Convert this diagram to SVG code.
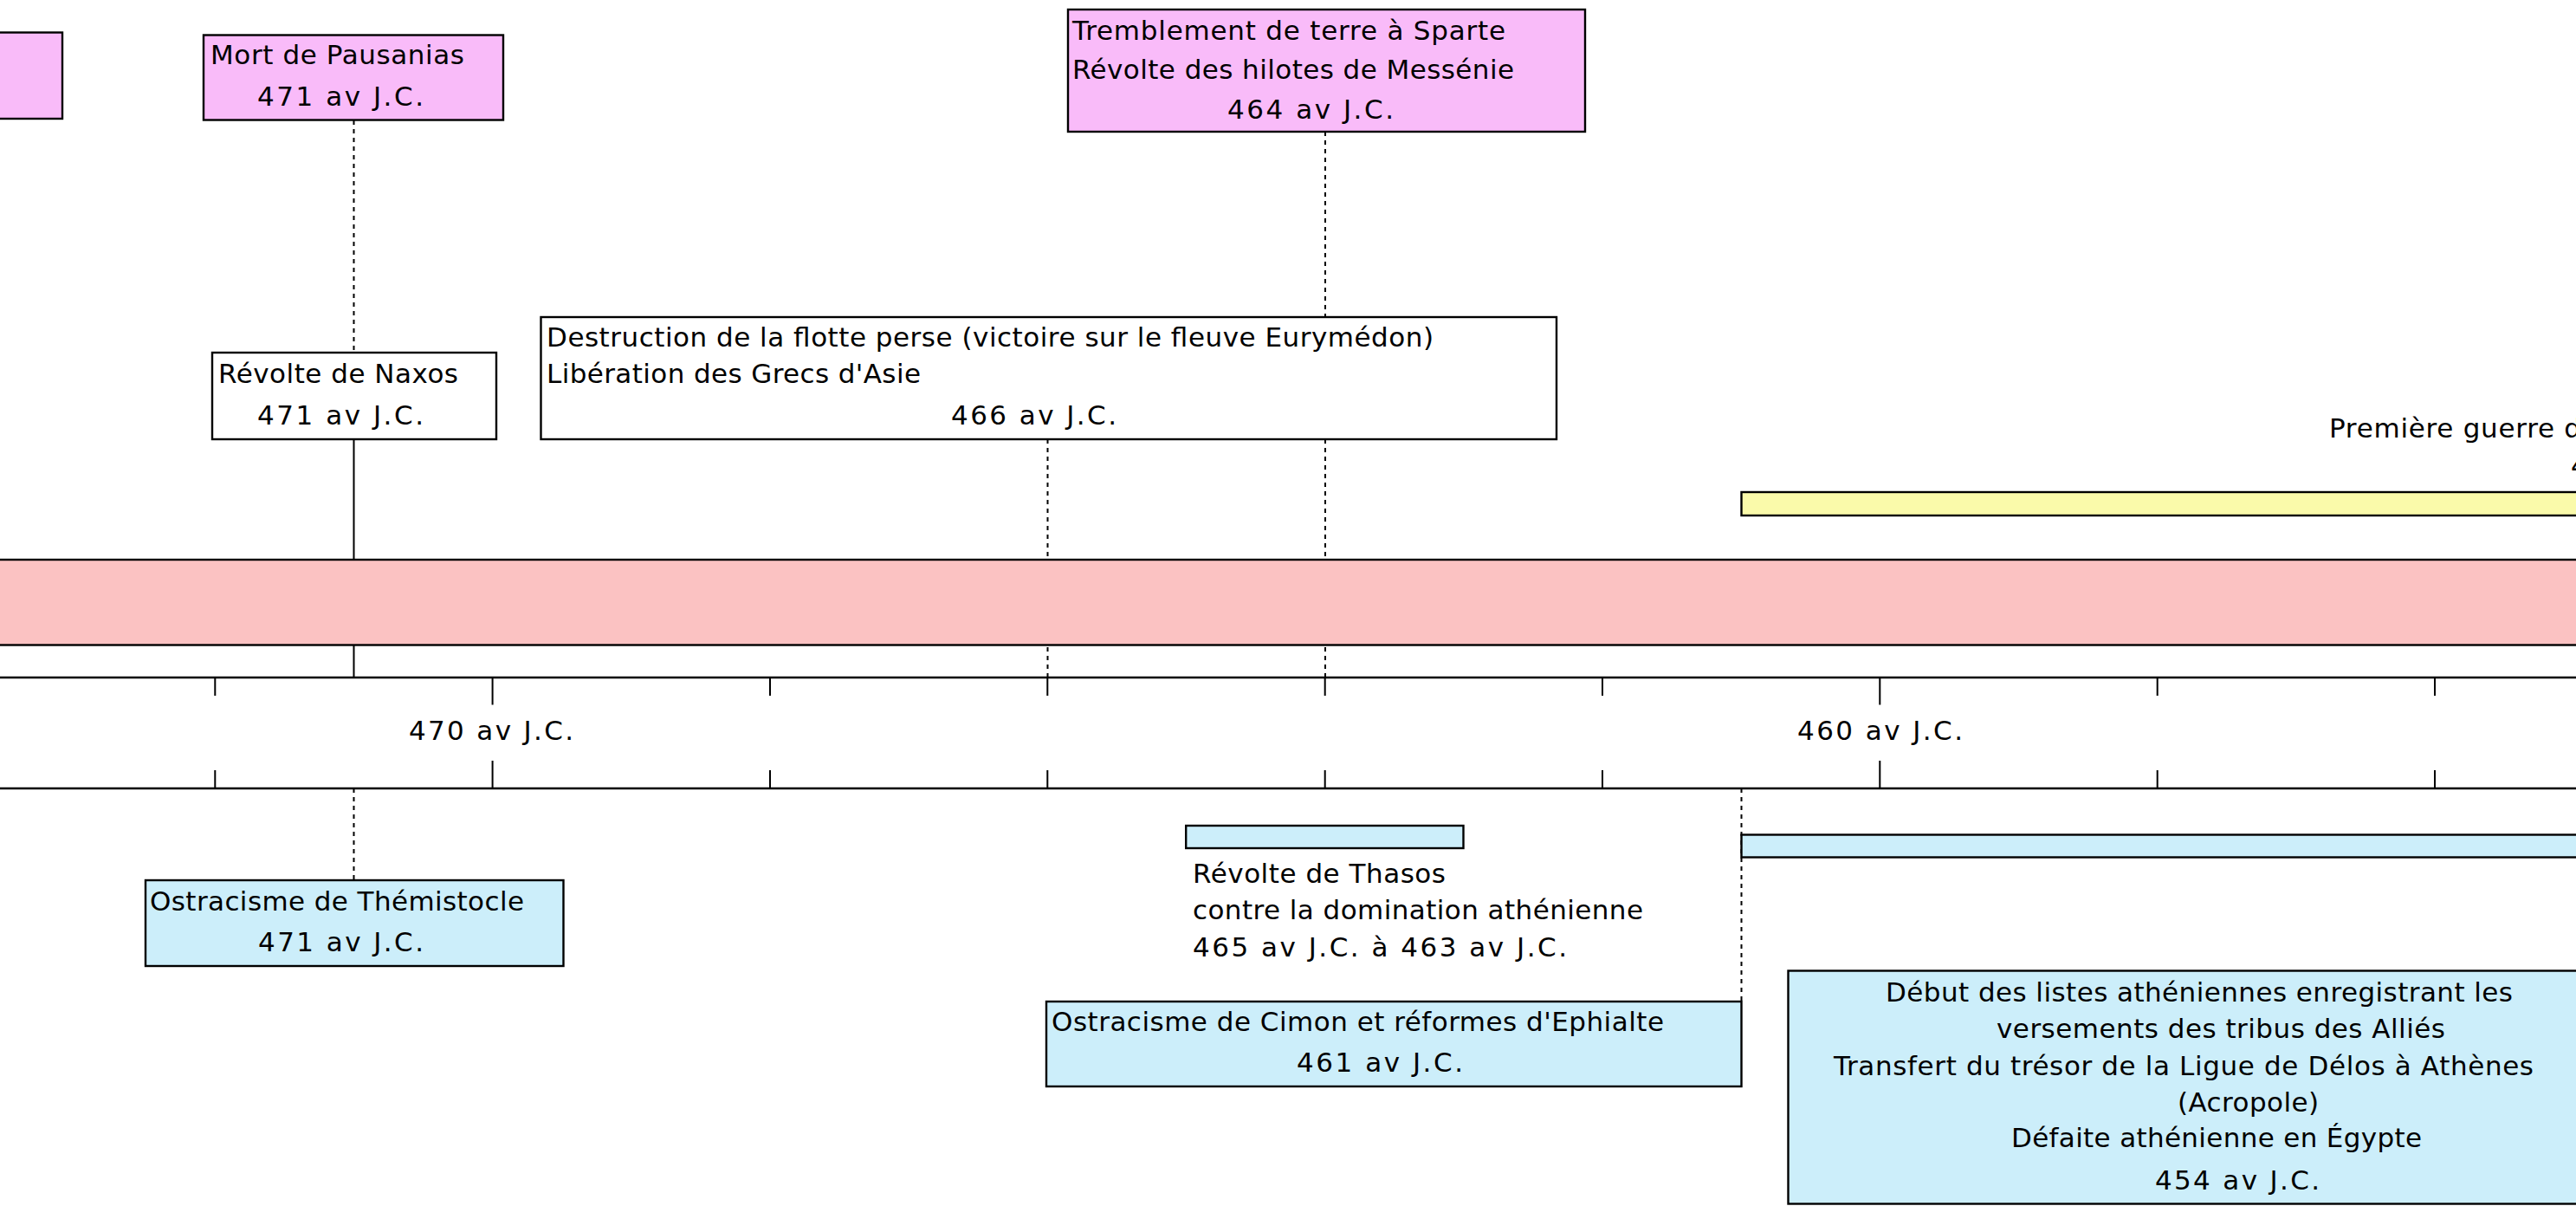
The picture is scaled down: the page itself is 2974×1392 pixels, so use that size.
<svg xmlns="http://www.w3.org/2000/svg" width="2974" height="1392" viewBox="0 0 2974 1392">
<style>
text{font-family:"DejaVu Sans","Liberation Sans",sans-serif;font-size:31px;fill:#000}
.box{stroke:#000;stroke-width:2.4}
.mag{fill:#F9BBF9}
.wht{fill:#FFFFFF}
.blu{fill:#CCEEFA}
.yel{fill:#FAFAAA}
.band{fill:#FBC2C2;stroke:#000;stroke-width:2.4}
.dot{stroke:#000;stroke-width:2;stroke-dasharray:5 5;fill:none}
.sol{stroke:#000;stroke-width:2;fill:none}
.ax{stroke:#000;stroke-width:2.4;fill:none}
.tk{stroke:#000;stroke-width:2;fill:none}
</style>
<rect width="2974" height="1392" fill="#FFFFFF"/>
<g id="connectors">
<line class="dot" x1="408.5" y1="139" x2="408.5" y2="406"/>
<line class="sol" x1="408.5" y1="507" x2="408.5" y2="782"/>
<line class="dot" x1="408.5" y1="910" x2="408.5" y2="1016"/>
<line class="dot" x1="1209.5" y1="507" x2="1209.5" y2="782"/>
<line class="dot" x1="1530" y1="152" x2="1530" y2="366"/>
<line class="dot" x1="1530" y1="507" x2="1530" y2="782"/>
<line class="dot" x1="2010.5" y1="910" x2="2010.5" y2="1156"/>
</g>
<g id="band-periode">
<rect class="band" x="-5" y="646" width="2990" height="98.5"/>
</g>
<g id="axis">
<line class="ax" x1="0" y1="782" x2="2974" y2="782"/>
<line class="ax" x1="0" y1="910" x2="2974" y2="910"/>
<path class="tk" d="M248.3 782V803M248.3 889V910M889 782V803M889 889V910M1209.3 782V803M1209.3 889V910M1529.7 782V803M1529.7 889V910M1850 782V803M1850 889V910M2490.7 782V803M2490.7 889V910M2811 782V803M2811 889V910"/>
<path class="tk" d="M568.6 782V813.5M568.6 878V910M2170.3 782V813.5M2170.3 878V910"/>
<text x="472" y="854" textLength="190">470 av J.C.</text>
<text x="2075" y="854" textLength="191">460 av J.C.</text>
</g>
<g id="node-left-pink">
<rect class="box mag" x="-10" y="37.5" width="82" height="99.5"/>
</g>
<g id="node-pausanias">
<rect class="box mag" x="235" y="40.5" width="346" height="98"/>
<text x="243" y="74" textLength="293">Mort de Pausanias</text>
<text x="297" y="121.5" textLength="192">471 av J.C.</text>
</g>
<g id="node-naxos">
<rect class="box wht" x="245" y="407" width="328" height="100"/>
<text x="252" y="442" textLength="277">Révolte de Naxos</text>
<text x="297" y="489.5" textLength="192">471 av J.C.</text>
</g>
<g id="node-eurymedon">
<rect class="box wht" x="624.5" y="366" width="1172.5" height="141"/>
<text x="631" y="400" textLength="1024">Destruction de la flotte perse (victoire sur le fleuve Eurymédon)</text>
<text x="631" y="442" textLength="432">Libération des Grecs d'Asie</text>
<text x="1098" y="489.5" textLength="191">466 av J.C.</text>
</g>
<g id="node-sparte">
<rect class="box mag" x="1233" y="11" width="597" height="141"/>
<text x="1238" y="45.5" textLength="500">Tremblement de terre à Sparte</text>
<text x="1238" y="91" textLength="510">Révolte des hilotes de Messénie</text>
<text x="1417" y="136.5" textLength="192">464 av J.C.</text>
</g>
<g id="node-guerre">
<rect class="box yel" x="2010.5" y="568" width="1000" height="27"/>
<text x="2689" y="505" textLength="291">Première guerre d</text>
<text x="2968" y="548">4</text>
</g>
<g id="node-themistocle">
<rect class="box blu" x="168" y="1016" width="482.5" height="99"/>
<text x="173" y="1051" textLength="432">Ostracisme de Thémistocle</text>
<text x="298" y="1098" textLength="191">471 av J.C.</text>
</g>
<g id="node-thasos">
<rect class="box blu" x="1369.2" y="953" width="320.3" height="26"/>
<text x="1377" y="1018.5" textLength="292">Révolte de Thasos</text>
<text x="1377" y="1060.5" textLength="520">contre la domination athénienne</text>
<text x="1377" y="1104" textLength="432">465 av J.C. à 463 av J.C.</text>
</g>
<g id="node-cimon">
<rect class="box blu" x="1208" y="1156" width="802.5" height="98"/>
<text x="1214" y="1189.5" textLength="707">Ostracisme de Cimon et réformes d'Ephialte</text>
<text x="1497" y="1237" textLength="192">461 av J.C.</text>
</g>
<g id="node-bar-bleue">
<rect class="box blu" x="2010.5" y="963.5" width="1000" height="26"/>
</g>
<g id="node-delos">
<rect class="box blu" x="2064.5" y="1120.5" width="1000" height="269"/>
<text x="2177" y="1155.5" textLength="724">Début des listes athéniennes enregistrant les</text>
<text x="2305" y="1198" textLength="518">versements des tribus des Alliés</text>
<text x="2117" y="1240.5" textLength="808">Transfert du trésor de la Ligue de Délos à Athènes</text>
<text x="2514" y="1282.5" textLength="163">(Acropole)</text>
<text x="2322" y="1324" textLength="474">Défaite athénienne en Égypte</text>
<text x="2488" y="1373" textLength="190">454 av J.C.</text>
</g>
</svg>
